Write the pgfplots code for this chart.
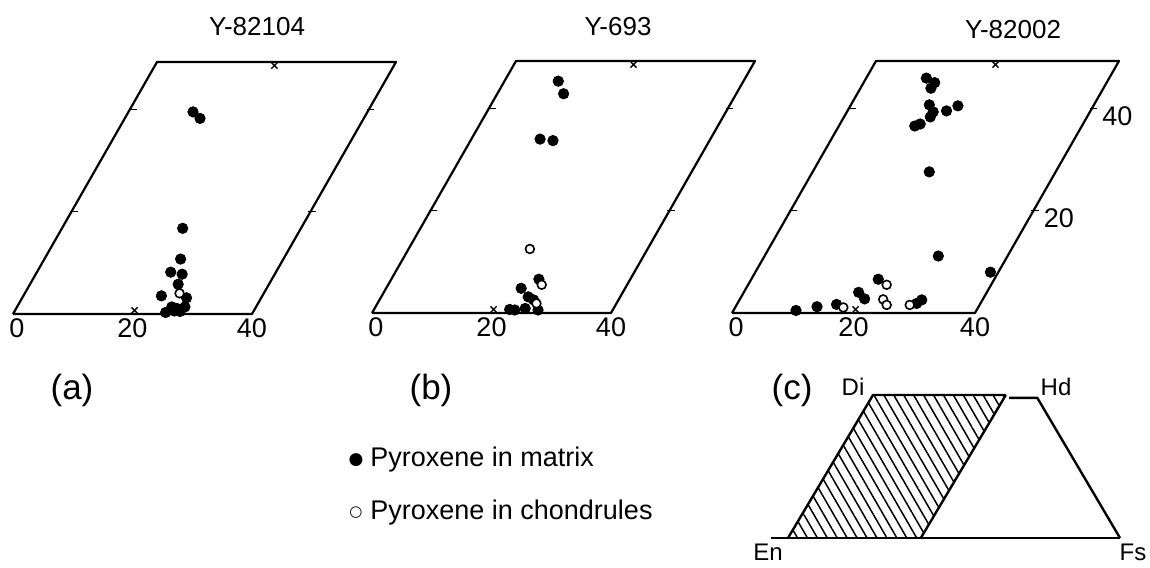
\documentclass[border=0pt]{standalone}
\usepackage{fontspec}
\setmainfont{Liberation Sans}
\newfontfamily\dejavu{DejaVu Sans}
\usepackage{pgfplots}
\pgfplotsset{compat=1.18}
\usetikzlibrary{patterns.meta}

\tikzset{ticklab/.style={inner sep=0pt, font=\fontsize{13.5}{14}\selectfont}}
\pgfplotsset{
  panel/.style={
    x={(2.9875pt,0pt)}, y={(1.44pt,2.52pt)},
    xmin=0, xmax=40, ymin=0, ymax=50,
    axis lines=none, clip=false, anchor=origin, disabledatascaling,
  },
  frame/.style={black, line width=1.1pt, line join=round},
  fdot/.style={only marks, mark=*, mark size=2.6pt, black},
  odot/.style={only marks, mark=*, mark size=2.2pt, mark options={fill=white, draw=black, line width=0.8pt}},
}
\newcommand{\panelframe}{%
  \addplot[frame] coordinates {(0,0) (40,0) (40,50) (0,50) (0,0)};
  \addplot[only marks, mark=x, mark size=2.2pt, line width=0.7pt, black] coordinates {(20,0.7) (20,49.3)};
  \addplot[black, line width=0.8pt] coordinates {(-0.2,20.3) (1.1,20.3)};
  \addplot[black, line width=0.8pt] coordinates {(-0.2,40.6) (1.1,40.6)};
  \addplot[black, line width=0.8pt] coordinates {(39.6,20.3) (40.9,20.3)};
  \addplot[black, line width=0.8pt] coordinates {(39.6,40.6) (40.9,40.6)};
  \node[ticklab, anchor=north, xshift=2pt, yshift=-2pt] at (axis cs:0,0) {0};
  \node[ticklab, anchor=north, yshift=-2pt] at (axis cs:20,0) {20};
  \node[ticklab, anchor=north, yshift=-2pt] at (axis cs:40,0) {40};
}

\begin{document}
\begin{tikzpicture}
\useasboundingbox (0,0) rectangle (575pt,283.5pt);

% ---------- (a) Y-82104 ----------
\begin{axis}[panel, at={(6.5pt,126.5pt)}]
\panelframe
\addplot[fdot] coordinates {
(10.8,40.1) (12.6,38.8) (20.2,17.0) (22.8,10.9) (22.4,8.3) (24.5,7.9)
(24.8,5.9) (23.1,3.6) (27.5,3.2) (28.1,1.4) (26.9,1.1) (25.9,1.4)
(25.4,0.3) (27.7,0.5) (26.7,0.6)};
\addplot[odot] coordinates {(25.9,4.1)};
\end{axis}

% ---------- (b) Y-693 ----------
\begin{axis}[panel, at={(186pt,127pt)}]
\panelframe
\addplot[fdot] coordinates {
(9.0,46.0) (11.1,43.5) (11.5,34.5) (13.8,34.2) (24.7,6.7) (22.6,4.9)
(24.6,3.2) (25.8,2.6) (22.7,0.7) (23.6,0.6) (25.2,0.9) (27.5,0.6)};
\addplot[odot] coordinates {(20.3,12.7) (25.7,5.6) (26.6,1.9)};
\end{axis}

% ---------- (c) Y-82002 ----------
\begin{axis}[panel, x={(3.0375pt,0pt)}, at={(366pt,127pt)}]
\panelframe
\addplot[fdot] coordinates {
(9.9,46.6) (11.7,45.7) (11.6,44.6) (12.9,41.3) (14.2,39.9) (16.3,40.1)
(17.7,41.1) (14.2,38.9) (13.2,37.5) (12.5,37.1) (19.2,28.0) (28.6,11.3)
(38.7,8.1) (20.9,6.7) (18.9,4.1) (20.5,2.8) (16.4,1.7) (13.4,1.25)
(10.3,0.5) (30.0,2.6) (29.5,1.9)};
\addplot[odot] coordinates {(22.8,5.6) (23.6,2.7) (24.7,1.6) (17.8,1.1) (28.5,1.6)};
\node[ticklab, anchor=west, xshift=5pt, yshift=-4pt] at (axis cs:40,20.3) {20};
\node[ticklab, anchor=west, xshift=5pt, yshift=-4pt] at (axis cs:40,40.6) {40};
\end{axis}

% ---------- inset pyroxene quadrilateral ----------
\begin{axis}[x={(1.66pt,0pt)}, y={(0.85pt,1.43pt)},
  xmin=0, xmax=100, ymin=0, ymax=50,
  axis lines=none, clip=false, anchor=origin, disabledatascaling,
  at={(394pt,14.5pt)}]
\addplot[draw=none, pattern={Lines[angle=-60, distance=4.3pt, line width=0.75pt]}]
  coordinates {(0,0) (40,0) (40,50) (0,50)} -- cycle;
\addplot[black, line width=1.2pt] coordinates {(-5,0) (100,0)};
\addplot[black, line width=1.2pt, line join=round] coordinates {(0,0) (0,50) (40,50)};
\addplot[black, line width=1.2pt, line join=round] coordinates {(41.5,49) (50,49) (100,0)};
\addplot[black, line width=1.2pt] coordinates {(40,0) (40,50)};
\end{axis}

% ---------- texts ----------
\begin{scope}[every node/.style={inner sep=0pt}]
\node[font=\fontsize{13}{14}\selectfont] at (128.5pt,270pt) {Y-82104};
\node[font=\fontsize{13}{14}\selectfont] at (309pt,270pt) {Y-693};
\node[font=\fontsize{13}{14}\selectfont] at (506.5pt,268.5pt) {Y-82002};
\node[font=\fontsize{17.5}{20}\selectfont] at (36pt,88.5pt) {(a)};
\node[font=\fontsize{17.5}{20}\selectfont] at (215.5pt,88.5pt) {(b)};
\node[font=\fontsize{17.5}{20}\selectfont] at (396pt,88.5pt) {(c)};
\node[font=\fontsize{12}{14}\selectfont] at (426.5pt,90pt) {Di};
\node[font=\fontsize{12}{14}\selectfont] at (528pt,90pt) {Hd};
\node[font=\fontsize{12}{14}\selectfont] at (384pt,7.5pt) {En};
\node[font=\fontsize{12}{14}\selectfont] at (566.5pt,7.5pt) {Fs};
\node[font=\dejavu\fontsize{8.5}{9}\selectfont] at (178pt,53.5pt) {●};
\node[font=\dejavu\fontsize{7.5}{9}\selectfont] at (178pt,27pt) {○};
\node[anchor=west, font=\fontsize{13.5}{15}\selectfont] at (185pt,53.5pt) {Pyroxene in matrix};
\node[anchor=west, font=\fontsize{13.5}{15}\selectfont] at (185pt,27pt) {Pyroxene in chondrules};
\end{scope}
\end{tikzpicture}
\end{document}
